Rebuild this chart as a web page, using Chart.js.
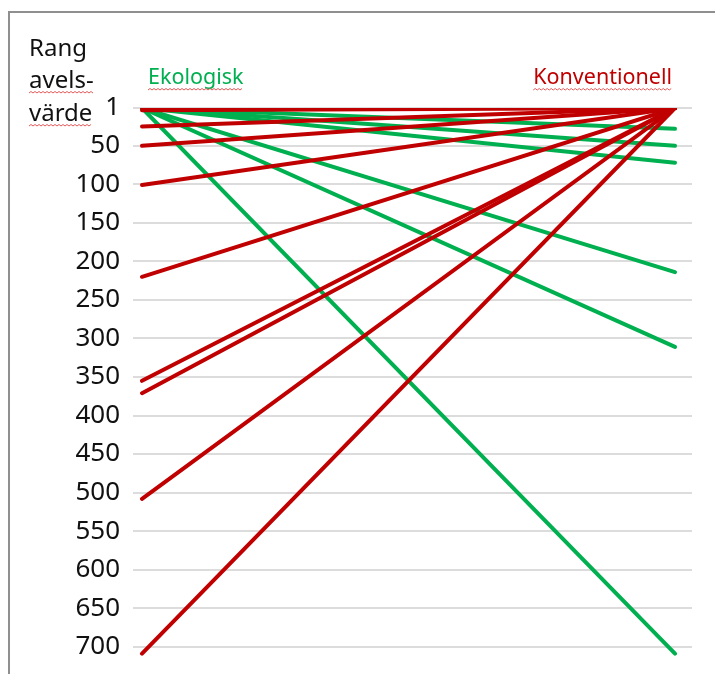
<!DOCTYPE html>
<html>
<head>
<meta charset="utf-8">
<script src="https://cdn.jsdelivr.net/npm/chart.js@4/dist/chart.umd.min.js"></script>
<style>
  html, body { margin: 0; padding: 0; background: #fff; }
  #wrap { position: relative; width: 715px; height: 674px; }
  canvas { display: block; }
</style>
</head>
<body>
<div id="wrap"><canvas id="c" width="715" height="674"></canvas></div>
<script>
// ---- Data ----
const categories = ['Ekologisk', 'Konventionell'];
const axisTitleLines = ['Rang', 'avels-', 'värde'];
const tickValues = [1, 50, 100, 150, 200, 250, 300, 350, 400, 450, 500, 550, 600, 650, 700];

// Green lines: animals ranked by ecological breeding value (left) vs conventional (right)
const ekoLeft  = [1, 1, 1, 1, 1, 1];
const ekoRight = [28, 50, 72, 214, 311, 709];

// Red lines: animals top-ranked conventionally (right), vs their ecological rank (left)
const konvLeft  = [1, 4, 25, 50, 101, 220, 355, 371, 508, 709];
const konvRight = [1, 1, 1, 1, 1, 1, 1, 1, 1, 1];

const GREEN = '#00B050';
const RED = '#C00000';

const datasets = [];
ekoLeft.forEach((v, i) => {
  datasets.push({
    data: [{x: 0, y: v}, {x: 1, y: ekoRight[i]}],
    borderColor: GREEN, borderWidth: 4, borderCapStyle: 'round',
    pointRadius: 0, tension: 0, order: 2
  });
});
konvLeft.forEach((v, i) => {
  datasets.push({
    data: [{x: 0, y: v}, {x: 1, y: konvRight[i]}],
    borderColor: RED, borderWidth: 4, borderCapStyle: 'round',
    pointRadius: 0, tension: 0, order: 1
  });
});

function squiggle(ctx, x1, x2, y) {
  ctx.save();
  ctx.strokeStyle = '#e05a5a';
  ctx.lineWidth = 1;
  ctx.beginPath();
  let up = true;
  ctx.moveTo(x1, y);
  for (let x = x1 + 2; x <= x2; x += 2) {
    ctx.lineTo(x, up ? y - 1.5 : y);
    up = !up;
  }
  ctx.stroke();
  ctx.restore();
}

const decor = {
  id: 'decor',
  afterDraw(chart) {
    const ctx = chart.ctx;
    const xs = chart.scales.x;
    ctx.save();
    // frame
    ctx.strokeStyle = '#8f8f8f';
    ctx.lineWidth = 2;
    ctx.beginPath();
    ctx.moveTo(9, 674);
    ctx.lineTo(9, 12);
    ctx.lineTo(715, 12);
    ctx.stroke();

    // axis title lines
    ctx.fillStyle = '#111';
    ctx.font = '24px "Noto Sans"';
    ctx.textAlign = 'left';
    ctx.textBaseline = 'alphabetic';
    const baselines = [56, 88, 121];
    axisTitleLines.forEach((t, i) => {
      ctx.fillText(t, 29, baselines[i]);
      if (i > 0) {
        const w = ctx.measureText(t).width;
        squiggle(ctx, 29, 29 + w, baselines[i] + 5);
      }
    });

    // category labels at top
    ctx.font = '21.5px "Noto Sans"';
    const lx = xs.getPixelForValue(0) + 6;
    ctx.fillStyle = GREEN;
    ctx.textAlign = 'left';
    ctx.fillText(categories[0], lx, 84);
    const w0 = ctx.measureText(categories[0]).width;
    squiggle(ctx, lx, lx + w0, 90);
    const rx = xs.getPixelForValue(1) - 3;
    ctx.fillStyle = RED;
    ctx.textAlign = 'right';
    ctx.fillText(categories[1], rx, 84);
    const w1 = ctx.measureText(categories[1]).width;
    squiggle(ctx, rx - w1, rx, 90);
    ctx.restore();
  }
};

new Chart(document.getElementById('c'), {
  type: 'line',
  data: { datasets },
  options: {
    responsive: false,
    animation: false,
    events: [],
    layout: { padding: { top: 108, right: 23, bottom: 18, left: 0 } },
    plugins: { legend: { display: false }, tooltip: { enabled: false }, title: { display: false } },
    scales: {
      x: {
        type: 'linear',
        min: -0.0169,
        max: 1.0319,
        display: false
      },
      y: {
        type: 'linear',
        reverse: true,
        min: 1,
        max: 712,
        afterBuildTicks: s => { s.ticks = tickValues.map(v => ({ value: v })); },
        afterFit: s => { s.width = 133; },
        border: { display: false },
        grid: { color: '#dcdcdc', lineWidth: 2, drawTicks: true, tickLength: 13, tickColor: 'rgba(0,0,0,0)' },
        ticks: {
          padding: 0,
          color: '#111',
          font: { family: 'Noto Sans', size: 26 },
          autoSkip: false
        }
      }
    }
  },
  plugins: [decor]
});
</script>
</body>
</html>
